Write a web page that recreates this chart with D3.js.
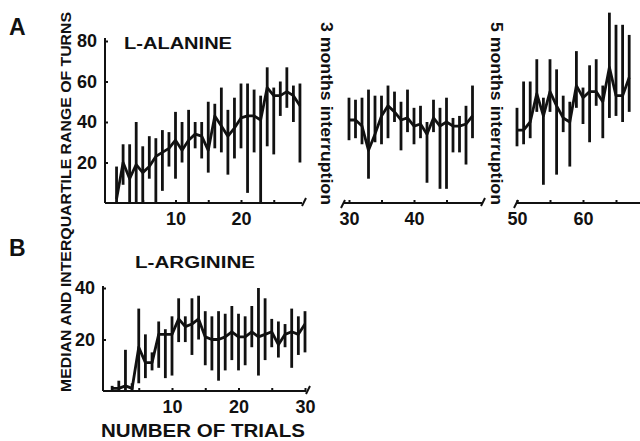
<!DOCTYPE html>
<html>
<head>
<meta charset="utf-8">
<script src="https://cdn.jsdelivr.net/npm/d3@7"></script>
<style>
  body { margin: 0; background: #fff; }
  text { font-family: "Liberation Sans", Arial, sans-serif; font-weight: bold; fill: #111; }
</style>
</head>
<body>
<script>
// Panel A, L-alanine: trials 1-29, then 30-49 after 3 months, 50-67 after 5 months
var alaStart1 = 1;
var alaMed1 = [2, 20, 12, 19, 15, 18, 23, 25, 27, 31, 26, 31, 34, 33, 26, 43, 38, 33, 37, 42, 43, 43, 41, 57, 53, 53, 55, 53, 48];
var alaLo1  = [0, 9, 0, 0, 0, 12, 0, 6, 18, 12, 20, 0, 27, 22, 15, 27, 25, 14, 22, 27, 5, 25, 0, 28, 24, 43, 47, 40, 20];
var alaHi1  = [18, 29, 29, 40, 28, 33, 32, 36, 35, 45, 40, 46, 40, 40, 50, 49, 57, 46, 52, 59, 59, 56, 53, 67, 57, 60, 67, 58, 59];

var alaStart2 = 30;
var alaMed2 = [41, 41, 38, 26, 34, 43, 48, 45, 41, 42, 38, 39, 34, 42, 38, 40, 38, 38, 39, 43];
var alaLo2  = [31, 32, 29, 12, 30, 29, 32, 40, 26, 35, 29, 32, 10, 35, 7, 7, 25, 25, 19, 32];
var alaHi2  = [52, 51, 52, 56, 53, 53, 58, 55, 50, 56, 47, 48, 40, 51, 47, 52, 42, 43, 48, 58];

var alaStart3 = 50;
var alaMed3 = [36, 36, 40, 54, 43, 55, 48, 42, 40, 58, 52, 55, 55, 50, 67, 53, 53, 62];
var alaLo3  = [28, 29, 32, 45, 9, 45, 14, 35, 18, 47, 39, 30, 48, 32, 42, 43, 40, 45];
var alaHi3  = [47, 60, 60, 71, 52, 71, 66, 53, 50, 75, 57, 68, 71, 58, 94, 88, 88, 83];

// Panel B, L-arginine: trials 1-30
var argStart = 1;
var argMed = [1, 1, 2, 1, 17, 11, 11, 22, 22, 22, 28, 25, 26, 28, 21, 20, 20, 21, 23, 21, 21, 23, 21, 22, 23, 18, 22, 23, 22, 26];
var argLo  = [0, 0, 0, 0, 3, 5, 8, 9, 5, 6, 19, 19, 14, 20, 10, 8, 4, 8, 12, 8, 10, 17, 6, 12, 17, 13, 17, 9, 14, 15];
var argHi  = [2, 4, 16, 3, 32, 22, 15, 27, 24, 29, 36, 29, 36, 37, 31, 29, 31, 30, 33, 30, 29, 33, 40, 36, 28, 27, 26, 32, 29, 31];

var alaYTicks = [20, 40, 60, 80];
var argYTicks = [20, 40];

var width = 640, height = 441;
var ink = "#111";

var svg = d3.select("body").append("svg")
    .attr("width", width)
    .attr("height", height);

function rows(start, med, lo, hi) {
  return med.map(function(m, i) { return {t: start + i, med: m, lo: lo[i], hi: hi[i]}; });
}

// whiskers + median line
function drawSeries(g, data, x, y) {
  g.selectAll("line.bar")
    .data(data)
    .enter().append("line")
    .attr("class", "bar")
    .attr("x1", d => x(d.t)).attr("x2", d => x(d.t))
    .attr("y1", d => y(d.lo)).attr("y2", d => y(d.hi))
    .attr("stroke", ink).attr("stroke-width", 2.8);
  g.append("path")
    .datum(data)
    .attr("fill", "none")
    .attr("stroke", ink)
    .attr("stroke-width", 2.8)
    .attr("stroke-linejoin", "round")
    .attr("d", d3.line().x(d => x(d.t)).y(d => y(d.med)));
}

function xAxis(g, x, y0, ticks, labels) {
  g.append("g")
    .attr("transform", "translate(0," + y0 + ")")
    .call(d3.axisBottom(x).tickValues(ticks).tickSizeInner(-3).tickSizeOuter(0).tickPadding(9)
      .tickFormat(d => labels.indexOf(d) >= 0 ? d : ""))
    .call(a => a.select(".domain").remove())
    .call(a => a.selectAll("line").attr("stroke", ink).attr("stroke-width", 2))
    .call(a => a.selectAll("text").style("font-size", "18px").attr("fill", ink));
}

function yAxis(g, y, x0, ticks) {
  g.append("g")
    .attr("transform", "translate(" + x0 + ",0)")
    .call(d3.axisLeft(y).tickValues(ticks).tickSizeInner(-3).tickSizeOuter(0).tickPadding(8))
    .call(a => a.select(".domain").remove())
    .call(a => a.selectAll("line").attr("stroke", ink).attr("stroke-width", 2))
    .call(a => a.selectAll("text").style("font-size", "18px").attr("fill", ink));
}

function hline(x1, x2, y0) {
  svg.append("line").attr("x1", x1).attr("x2", x2).attr("y1", y0).attr("y2", y0)
    .attr("stroke", ink).attr("stroke-width", 2);
}
function slash(xc, y0) {
  svg.append("line").attr("x1", xc - 2).attr("x2", xc + 2).attr("y1", y0 + 4).attr("y2", y0 - 4)
    .attr("stroke", ink).attr("stroke-width", 2);
}

// ---------- Panel A ----------
var yA = d3.scaleLinear().domain([0, 80]).range([203, 41]);
var xA1 = d3.scaleLinear().domain([0, 30]).range([110, 306.5]);
var xA2 = d3.scaleLinear().domain([30, 50]).range([349, 479]);
var xA3 = d3.scaleLinear().domain([50, 70]).range([517, 649]);

var gA = svg.append("g");
svg.append("line").attr("x1", 105).attr("x2", 105).attr("y1", 38).attr("y2", 203)
  .attr("stroke", ink).attr("stroke-width", 2);
yAxis(gA, yA, 105, alaYTicks);

hline(105, 302, 203); slash(304, 202);
xAxis(gA, xA1, 203, [5, 10, 15, 20, 25], [10, 20]);
hline(344, 482, 203); slash(343, 204); slash(483, 202);
xAxis(gA, xA2, 203, [30, 35, 40, 45], [30, 40]);
hline(516, 640, 203); slash(516, 204);
xAxis(gA, xA3, 203, [50, 55, 60, 65], [50, 60]);

drawSeries(gA, rows(alaStart1, alaMed1, alaLo1, alaHi1), xA1, yA);
drawSeries(gA.append("g"), rows(alaStart2, alaMed2, alaLo2, alaHi2), xA2, yA);
drawSeries(gA.append("g"), rows(alaStart3, alaMed3, alaLo3, alaHi3), xA3, yA);

svg.append("text").attr("x", 124).attr("y", 49).style("font-size", "16px")
  .attr("textLength", 108).attr("lengthAdjust", "spacingAndGlyphs").text("L-ALANINE");

[["3 months interruption", 321], ["5 months interruption", 491]].forEach(function(d) {
  svg.append("text")
    .attr("transform", "translate(" + d[1] + ",22) rotate(90)")
    .style("font-size", "16.5px")
    .attr("textLength", 183).attr("lengthAdjust", "spacingAndGlyphs")
    .text(d[0]);
});

svg.append("text").attr("x", 9).attr("y", 35).style("font-size", "23px").text("A");

// ---------- Panel B ----------
var yB = d3.scaleLinear().domain([0, 40]).range([391, 288]);
var xB = d3.scaleLinear().domain([0, 30]).range([105.5, 305]);
var gB = svg.append("g");
svg.append("line").attr("x1", 103).attr("x2", 103).attr("y1", 286).attr("y2", 391)
  .attr("stroke", ink).attr("stroke-width", 2);
yAxis(gB, yB, 103, argYTicks);
hline(103, 306, 391); slash(308, 390);
xAxis(gB, xB, 391, [5, 10, 15, 20, 25, 30], [10, 20, 30]);
drawSeries(gB, rows(argStart, argMed, argLo, argHi), xB, yB);

svg.append("text").attr("x", 135).attr("y", 268).style("font-size", "16px")
  .attr("textLength", 120).attr("lengthAdjust", "spacingAndGlyphs").text("L-ARGININE");
svg.append("text").attr("x", 101).attr("y", 437)
  .style("font-size", "18px")
  .attr("textLength", 204).attr("lengthAdjust", "spacingAndGlyphs").text("NUMBER OF TRIALS");
svg.append("text").attr("x", 9).attr("y", 256).style("font-size", "23px").text("B");

// shared y label
svg.append("text")
  .attr("transform", "translate(71,392) rotate(-90)")
  .style("font-size", "15px")
  .attr("textLength", 380).attr("lengthAdjust", "spacingAndGlyphs")
  .text("MEDIAN AND INTERQUARTILE RANGE OF TURNS");
</script>
</body>
</html>
